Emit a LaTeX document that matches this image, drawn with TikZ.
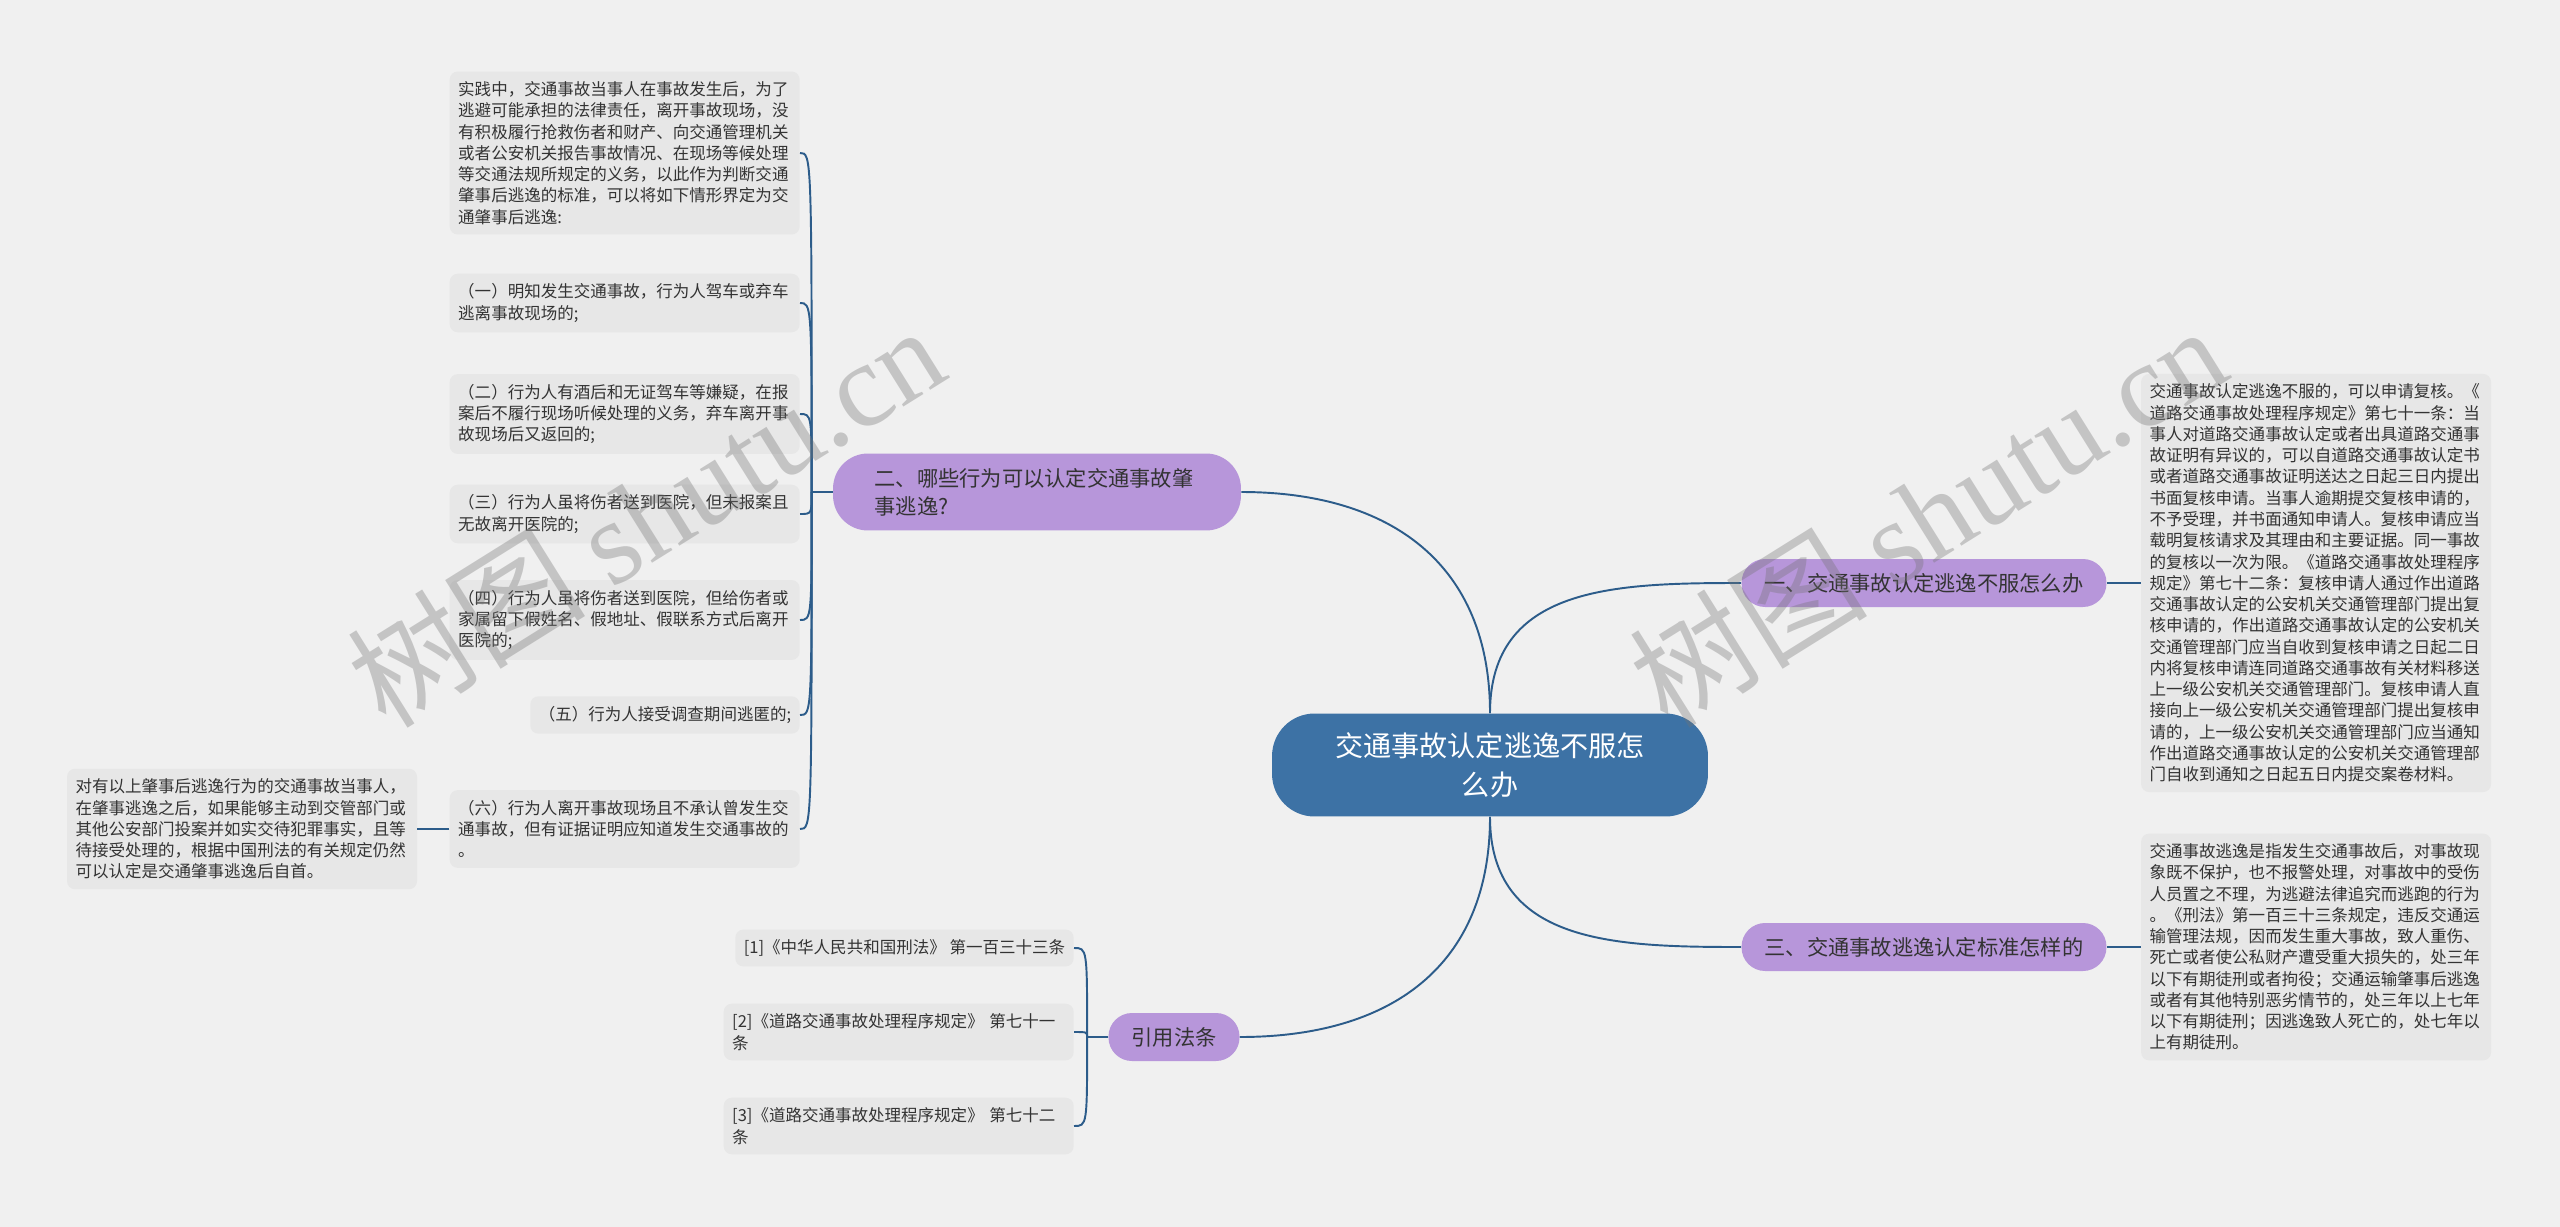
\documentclass[tikz,border=0pt]{standalone}
\usepackage{fontspec}
\setmainfont{Noto Sans CJK SC}
\newfontfamily\wmlatin{Liberation Serif}
\usetikzlibrary{positioning}
\definecolor{bgcolor}{RGB}{240,240,240}
\definecolor{rootcolor}{RGB}{61,114,165}
\definecolor{branchcolor}{RGB}{183,150,218}
\definecolor{leafcolor}{RGB}{231,231,231}
\definecolor{linkcolor}{RGB}{44,92,138}
\definecolor{textcolor}{RGB}{51,51,51}

\begin{document}
\begin{tikzpicture}[
    x=0.02cm, y=-0.02cm,
    rootnode/.style={rectangle, fill=rootcolor, rounded corners=0.85cm, align=center, text width=6.3cm, minimum width=8.72cm, minimum height=2.06cm, text=white, font=\fontsize{16}{22.2}\selectfont},
    branch/.style={rectangle, fill=branchcolor, rounded corners=0.47cm, inner xsep=0.46cm, minimum height=0.96cm, text=textcolor, font=\fontsize{12.1}{15.9}\selectfont},
    leafbase/.style={rectangle, fill=leafcolor, rounded corners=0.16cm, inner xsep=0.17cm, inner ysep=0.2cm, text=textcolor, font=\fontsize{9.4}{12.1}\selectfont},
    leaf/.style={leafbase, align=left, text width=6.66cm},
    link/.style={draw=linkcolor, line width=1.1pt},
    bracket/.style={to path={.. controls (\tikztostart |- \tikztotarget) .. (\tikztotarget) \tikztonodes}},
    watermark/.style={text=black!55, text opacity=0.35, font=\fontsize{68}{68}\selectfont}
]
    \useasboundingbox (0,0) rectangle (2560,1227);
    \fill[bgcolor] (0,0) rectangle (2560,1227);

    % Zentrum und Hauptzweige
    \node[rootnode] (root) at (1490,765) {交通事故认定逃逸不服怎\\么办};
    \node[branch, align=left, text width=6.5cm, inner xsep=0.83cm, minimum height=1.54cm, rounded corners=0.7cm] (b2) at (1037,492) {二、哪些行为可以认定交通事故肇\\事逃逸?};
    \node[branch] (b1) at (1924,583) {一、交通事故认定逃逸不服怎么办};
    \node[branch] (b3) at (1924,947) {三、交通事故逃逸认定标准怎样的};
    \node[branch] (b4) at (1174,1037) {引用法条};

    % Zweig 二: Fallgruppen
    \node[leaf, anchor=east] (l0) at (800,153) {实践中，交通事故当事人在事故发生后，为了\\逃避可能承担的法律责任，离开事故现场，没\\有积极履行抢救伤者和财产、向交通管理机关\\或者公安机关报告事故情况、在现场等候处理\\等交通法规所规定的义务，以此作为判断交通\\肇事后逃逸的标准，可以将如下情形界定为交\\通肇事后逃逸:};
    \node[leaf, anchor=east] (l1) at (800,303) {（一）明知发生交通事故，行为人驾车或弃车\\逃离事故现场的;};
    \node[leaf, anchor=east] (l2) at (800,414) {（二）行为人有酒后和无证驾车等嫌疑，在报\\案后不履行现场听候处理的义务，弃车离开事\\故现场后又返回的;};
    \node[leaf, anchor=east] (l3) at (800,514) {（三）行为人虽将伤者送到医院，但未报案且\\无故离开医院的;};
    \node[leaf, anchor=east] (l4) at (800,620) {（四）行为人虽将伤者送到医院，但给伤者或\\家属留下假姓名、假地址、假联系方式后离开\\医院的;};
    \node[leafbase, anchor=east] (l5) at (800,715) {（五）行为人接受调查期间逃匿的;};
    \node[leaf, anchor=east] (l6) at (800,829) {（六）行为人离开事故现场且不承认曾发生交\\通事故，但有证据证明应知道发生交通事故的\\。};
    \node[leaf, left=0.64cm of l6] (l7) {对有以上肇事后逃逸行为的交通事故当事人，\\在肇事逃逸之后，如果能够主动到交管部门或\\其他公安部门投案并如实交待犯罪事实，且等\\待接受处理的，根据中国刑法的有关规定仍然\\可以认定是交通肇事逃逸后自首。};

    % Zweige 一 und 三
    \node[leaf, right=0.68cm of b1] (r1) {交通事故认定逃逸不服的，可以申请复核。《\\道路交通事故处理程序规定》第七十一条：当\\事人对道路交通事故认定或者出具道路交通事\\故证明有异议的，可以自道路交通事故认定书\\或者道路交通事故证明送达之日起三日内提出\\书面复核申请。当事人逾期提交复核申请的，\\不予受理，并书面通知申请人。复核申请应当\\载明复核请求及其理由和主要证据。同一事故\\的复核以一次为限。《道路交通事故处理程序\\规定》第七十二条：复核申请人通过作出道路\\交通事故认定的公安机关交通管理部门提出复\\核申请的，作出道路交通事故认定的公安机关\\交通管理部门应当自收到复核申请之日起二日\\内将复核申请连同道路交通事故有关材料移送\\上一级公安机关交通管理部门。复核申请人直\\接向上一级公安机关交通管理部门提出复核申\\请的，上一级公安机关交通管理部门应当通知\\作出道路交通事故认定的公安机关交通管理部\\门自收到通知之日起五日内提交案卷材料。};
    \node[leaf, right=0.68cm of b3] (r3) {交通事故逃逸是指发生交通事故后，对事故现\\象既不保护，也不报警处理，对事故中的受伤\\人员置之不理，为逃避法律追究而逃跑的行为\\。《刑法》第一百三十三条规定，违反交通运\\输管理法规，因而发生重大事故，致人重伤、\\死亡或者使公私财产遭受重大损失的，处三年\\以下有期徒刑或者拘役；交通运输肇事后逃逸\\或者有其他特别恶劣情节的，处三年以上七年\\以下有期徒刑；因逃逸致人死亡的，处七年以\\上有期徒刑。};

    % Zweig 引用法条
    \node[leafbase, anchor=east] (c1) at (1074,948) {[1]《中华人民共和国刑法》 第一百三十三条};
    \node[leaf, anchor=east] (c2) at (1074,1032) {[2]《道路交通事故处理程序规定》 第七十一\\条};
    \node[leaf, anchor=east] (c3) at (1074,1126) {[3]《道路交通事故处理程序规定》 第七十二\\条};

    \coordinate[left=0.42cm of b2.west] (s2);
    \coordinate[left=0.42cm of b4.west] (s4);

    \draw[link] (root.north) to[out=90, in=0, looseness=1.15] (b2.east);
    \draw[link] (root.north) to[out=90, in=180, looseness=1.15] (b1.west);
    \draw[link] (root.south) to[out=270, in=180, looseness=1.15] (b3.west);
    \draw[link] (root.south) to[out=270, in=0, looseness=1.15] (b4.east);

    \draw[link] (b2.west) -- (s2);
    \draw[link] (s2) to[bracket] (l0.east);
    \draw[link] (s2) to[bracket] (l1.east);
    \draw[link] (s2) to[bracket] (l2.east);
    \draw[link] (s2) to[bracket] (l3.east);
    \draw[link] (s2) to[bracket] (l4.east);
    \draw[link] (s2) to[bracket] (l5.east);
    \draw[link] (s2) to[bracket] (l6.east);
    \draw[link] (l6.west) -- (l7.east);

    \draw[link] (b1.east) -- (r1.west);
    \draw[link] (b3.east) -- (r3.west);

    \draw[link] (b4.west) -- (s4);
    \draw[link] (s4) to[bracket] (c1.east);
    \draw[link] (s4) to[bracket] (c2.east);
    \draw[link] (s4) to[bracket] (c3.east);

    % Wasserzeichen
    \node[watermark, rotate=32] (wm1) at (645,515) {树图 {\wmlatin shutu.cn}};
    \node[watermark, rotate=32] (wm2) at (1927,515) {树图 {\wmlatin shutu.cn}};
\end{tikzpicture}
\end{document}
